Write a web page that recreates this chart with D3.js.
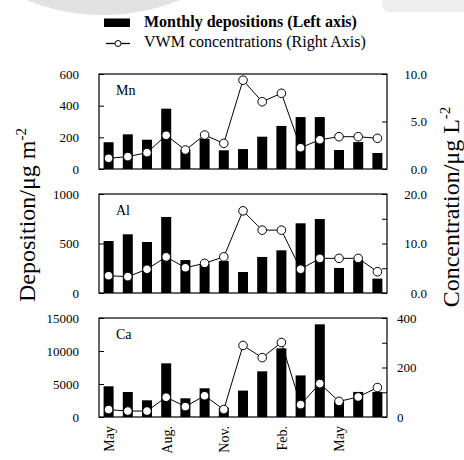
<!DOCTYPE html>
<html>
<head>
<meta charset="utf-8">
<script src="https://cdn.jsdelivr.net/npm/d3@7"></script>
<style>
  html, body { margin: 0; padding: 0; background: #fff; }
  svg { display: block; }
  svg text { font-family: "Liberation Serif", "Times New Roman", serif !important; fill: #000; }
</style>
</head>
<body>
<svg id="chart" width="464" height="460"></svg>
<script>
// ---- data ----
const months = ["May","Jun","Jul","Aug.","Sep","Oct","Nov.","Dec","Jan","Feb.","Mar","Apr","May","Jun","Jul"];
const monthTickLabels = ["May","","","Aug.","","","Nov.","","","Feb.","","","May","",""];

const mnDeposition = [169,219,185,381,120,191,118,126,204,272,328,328,120,170,101];
const mnConcentration = [1.13,1.3,1.72,3.55,2.0,3.58,2.7,9.35,7.08,7.97,2.24,3.08,3.4,3.4,3.23];

const alDeposition = [525,593,515,768,333,290,323,212,364,431,704,747,253,333,145];
const alConcentration = [3.5,3.3,4.8,7.3,5.1,6.0,7.3,16.6,12.7,12.7,4.8,7.0,7.0,7.0,4.3];

const caDeposition = [4650,3790,2530,8130,2830,4350,1400,4000,6920,10400,6300,14040,2400,3800,3800];
const caConcentration = [30,24,24,80,42,86,30,289,240,301,50,135,63,81,119];

const mnLeftTicks = [0,200,400,600];
const mnRightTicks = [0,5,10];
const mnRightLabels = [0,5,10];
const alLeftTicks = [0,500,1000];
const alRightTicks = [0,5,10,15,20];
const alRightLabels = [0,10,20];
const caLeftTicks = [0,5000,10000,15000];
const caRightTicks = [0,100,200,300,400];
const caRightLabels = [0,200,400];

const legendLabels = ["Monthly depositions (Left axis)", "VWM concentrations (Right Axis)"];

// ---- layout ----
const svg = d3.select("#chart");
const X0 = 99, X1 = 387;
const SERIF = "Liberation Serif, Times New Roman, serif";

// background decorations seen in reference
svg.append("circle").attr("cx", 103).attr("cy", -190).attr("r", 205).attr("fill", "#e2e2e2");
svg.append("rect").attr("x", 382).attr("y", -12).attr("width", 100).attr("height", 24).attr("rx", 7).attr("fill", "#eeeeee");

const x = d3.scalePoint().domain(d3.range(months.length)).range([X0, X1]).padding(0.5);
const barW = 10;

const panels = [
  {name:"Mn", top:74, bottom:169, dep:mnDeposition, conc:mnConcentration, lmax:600, lt:mnLeftTicks,
   rmax:10, rt:mnRightTicks, rl:mnRightLabels, rfmt:d3.format(".1f"), ranchor:"end", rx:40},
  {name:"Al", top:194, bottom:293, dep:alDeposition, conc:alConcentration, lmax:1000, lt:alLeftTicks,
   rmax:20, rt:alRightTicks, rl:alRightLabels, rfmt:d3.format(".1f"), ranchor:"end", rx:40},
  {name:"Ca", top:318, bottom:417, dep:caDeposition, conc:caConcentration, lmax:15000, lt:caLeftTicks,
   rmax:400, rt:caRightTicks, rl:caRightLabels, rfmt:d3.format("d"), ranchor:"start", rx:10}
];

panels.forEach((p, pi) => {
  const yL = d3.scaleLinear().domain([0, p.lmax]).range([p.bottom, p.top]);
  const yR = d3.scaleLinear().domain([0, p.rmax]).range([p.bottom, p.top]);
  const g = svg.append("g");

  // bars
  g.selectAll("rect.bar").data(p.dep).join("rect")
    .attr("class","bar")
    .attr("x", (d,i) => x(i) - barW/2)
    .attr("width", barW)
    .attr("y", d => yL(d))
    .attr("height", d => yL(0) - yL(d))
    .attr("fill", "#000");

  // left axis
  const la = g.append("g").attr("transform", `translate(${X0},0)`)
    .call(d3.axisLeft(yL).tickValues(p.lt).tickSizeInner(-5).tickSizeOuter(0).tickPadding(20).tickFormat(d3.format("d")));
  la.attr("font-family", SERIF).attr("font-size", 13);
  la.select(".domain").remove();
  la.selectAll("line").attr("stroke","#000");

  // right axis
  const ra = g.append("g").attr("transform", `translate(${X1},0)`)
    .call(d3.axisRight(yR).tickValues(p.rt).tickSizeInner(-5).tickSizeOuter(0).tickPadding(10)
      .tickFormat(d => p.rl.includes(d) ? p.rfmt(d) : ""));
  ra.attr("font-family", SERIF).attr("font-size", 13);
  ra.select(".domain").remove();
  ra.selectAll("line").attr("stroke","#000");
  ra.selectAll("text").attr("text-anchor", p.ranchor).attr("x", p.rx);

  // frame
  g.append("rect").attr("x", X0).attr("y", p.top).attr("width", X1 - X0).attr("height", p.bottom - p.top)
    .attr("fill","none").attr("stroke","#000").attr("stroke-width",1.2);

  // line + points
  const line = d3.line().x((d,i) => x(i)).y(d => yR(d));
  g.append("path").datum(p.conc).attr("d", line).attr("fill","none").attr("stroke","#000").attr("stroke-width",1);
  g.selectAll("circle.pt").data(p.conc).join("circle")
    .attr("class","pt")
    .attr("cx", (d,i) => x(i)).attr("cy", d => yR(d)).attr("r", 4.3)
    .attr("fill","#fff").attr("stroke","#000").attr("stroke-width",1);

  // panel label
  g.append("text").attr("x", X0 + 17).attr("y", p.top + 20.5).attr("font-size", 14).text(p.name);

  if (pi === panels.length - 1) {
    const ba = g.append("g").attr("transform", `translate(0,${p.bottom})`)
      .call(d3.axisBottom(x).tickSize(0).tickPadding(0).tickFormat(i => monthTickLabels[i]));
    ba.attr("font-family", SERIF).attr("font-size", 14);
    ba.select(".domain").remove();
    ba.selectAll("text")
      .attr("text-anchor","end")
      .attr("transform","rotate(-90)")
      .attr("x", -9).attr("y", 0).attr("dy","0.35em");
  }
});

// axis titles
const lt = svg.append("text").attr("transform","translate(35,215) rotate(-90)").attr("text-anchor","middle").attr("font-size",24);
lt.append("tspan").text("Deposition/\u03bcg m");
lt.append("tspan").attr("dy",-9).attr("font-size",15).text("-2");

const rt = svg.append("text").attr("transform","translate(459,207) rotate(-90)").attr("text-anchor","middle").attr("font-size",24);
rt.append("tspan").text("Concentration/\u03bcg L");
rt.append("tspan").attr("dy",-9).attr("font-size",15).text("-2");

// legend
const leg = svg.append("g");
leg.append("rect").attr("x",104).attr("y",18.5).attr("width",26).attr("height",8.5).attr("fill","#000");
leg.append("text").attr("x",144).attr("y",26.5).attr("font-size",16).attr("font-weight","bold").text(legendLabels[0]);
leg.append("line").attr("x1",106).attr("x2",130).attr("y1",43.5).attr("y2",43.5).attr("stroke","#000").attr("stroke-width",1.3);
leg.append("circle").attr("cx",118).attr("cy",43.5).attr("r",3).attr("fill","#fff").attr("stroke","#000");
leg.append("text").attr("x",144).attr("y",46.5).attr("font-size",16).text(legendLabels[1]);
</script>
</body>
</html>
